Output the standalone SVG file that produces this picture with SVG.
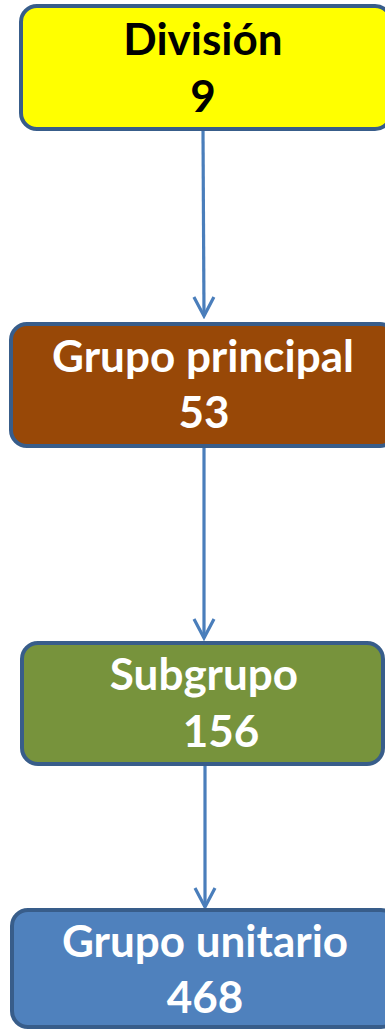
<svg xmlns="http://www.w3.org/2000/svg" width="385" height="1030" viewBox="0 0 385 1030">
<defs>
<style>
.box{stroke:#385D8A;stroke-width:4}
.t{font-family:Lato,"Open Sans","Liberation Sans",sans-serif;font-weight:bold;font-size:44px;text-anchor:middle}
.w{fill:#ffffff}
.k{fill:#000000}
.c{stroke:#4A7EBB;stroke-width:3.2;fill:none}
</style>
<marker id="ah" viewBox="0 0 24 24" refX="21" refY="12" markerWidth="24" markerHeight="24" markerUnits="userSpaceOnUse" orient="auto">
<path d="M2,2 L21,12 L2,22" fill="none" stroke="#4A7EBB" stroke-width="3.2"/>
</marker>
</defs>
<rect width="385" height="1030" fill="#ffffff"/>
<g id="connectors">
<line class="c" x1="203" y1="130" x2="204" y2="316" marker-end="url(#ah)"/>
<line class="c" x1="204" y1="447" x2="204" y2="638" marker-end="url(#ah)"/>
<line class="c" x1="205" y1="765" x2="205" y2="907" marker-end="url(#ah)"/>
</g>
<g id="division">
<rect class="box" x="21" y="6" width="370" height="123" rx="16" fill="#FFFF00"/>
<text class="t k" x="203" y="55">División</text>
<text class="t k" x="203" y="112">9</text>
</g>
<g id="grupo-principal">
<rect class="box" x="11" y="324" width="385" height="122" rx="16" fill="#984807"/>
<text class="t w" x="203" y="372">Grupo principal</text>
<text class="t w" x="204" y="428">53</text>
</g>
<g id="subgrupo">
<rect class="box" x="22" y="643" width="361" height="121" rx="16" fill="#77933C"/>
<text class="t w" x="204" y="690">Subgrupo</text>
<text class="t w" x="221" y="747">156</text>
</g>
<g id="grupo-unitario">
<rect class="box" x="12" y="910" width="385" height="117" rx="16" fill="#4F81BD"/>
<text class="t w" x="205" y="957">Grupo unitario</text>
<text class="t w" x="205" y="1013">468</text>
</g>
</svg>
